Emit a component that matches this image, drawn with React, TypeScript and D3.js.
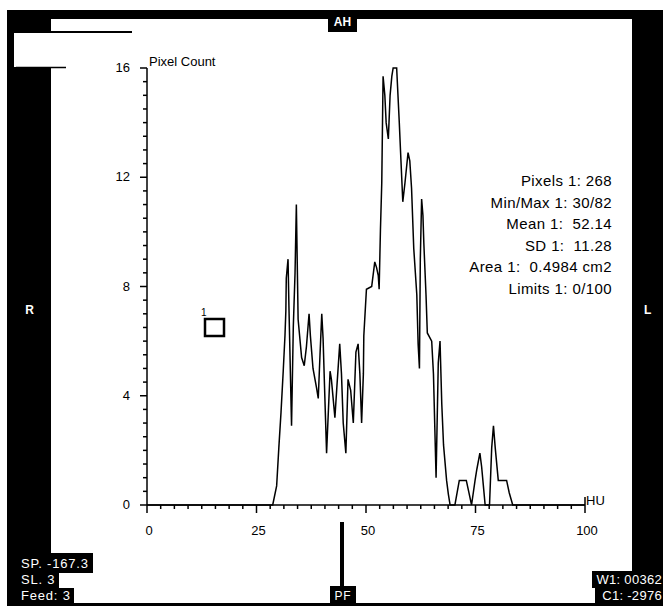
import React, { useEffect, useRef } from "react";
import * as d3 from "d3";

// histogram trace (HU, pixel count)
const huValues = [
  0, 28.7, 29.6, 30.1, 30.6, 31.1, 31.5, 31.7, 31.8, 32.2, 32.4, 33.0, 33.4, 33.8, 34.1, 34.5,
  35.3, 35.9, 36.4, 37.0, 37.3, 37.9, 38.7, 39.1, 39.5, 39.9, 40.2, 40.5, 41.0, 41.8, 42.1,
  42.9, 43.3, 44.0, 44.4, 44.8, 45.4, 45.9, 46.5, 47.1, 47.7, 48.2, 48.6, 49.0, 49.4, 49.5,
  50.1, 51.3, 52.0, 52.4, 52.8, 53.0, 53.3, 53.6, 53.9, 54.3, 54.6, 55.1, 55.5, 55.9, 56.2,
  57.0, 57.6, 57.9, 58.4, 58.9, 59.6, 60.0, 60.4, 60.9, 61.6, 61.9, 62.2, 62.4, 62.7, 63.0,
  63.2, 63.7, 64.0, 65.0, 65.4, 66.0, 66.5, 66.9, 67.3, 67.7, 68.4, 68.8, 69.2, 70.3, 71.3,
  72.9, 73.5, 74.1, 74.9, 75.3, 76.0, 76.4, 76.8, 77.2, 78.2, 78.7, 79.1, 79.5, 80.2, 82.1,
  82.7, 83.5, 100,
];
const pixelCounts = [
  0, 0, 0.7, 2.1, 3.4, 4.9, 6.2, 7.1, 8.3, 9.0, 7.3, 2.9, 6.5, 8.5, 11.0, 6.8,
  5.4, 5.1, 5.8, 7.0, 6.2, 5.0, 4.3, 3.9, 5.5, 7.0, 6.1, 4.5, 1.9, 4.9, 4.6,
  3.2, 4.2, 5.9, 4.8, 3.0, 1.9, 4.6, 4.2, 3.0, 5.6, 5.9, 4.8, 3.0, 4.8, 6.2,
  7.9, 8.0, 8.9, 8.7, 8.4, 7.9, 10.1, 11.8, 15.7, 15.0, 14.0, 13.4, 15.0, 15.7, 16.0,
  16.0, 14.0, 12.9, 11.1, 11.8, 12.9, 12.6, 11.6, 9.4, 7.7, 5.9, 5.0, 9.0, 11.2, 10.6,
  9.6, 7.7, 6.3, 6.0, 4.8, 1.0, 5.2, 6.0, 3.7, 2.2, 0.9, 0.4, 0, 0, 0.9,
  0.9, 0.45, 0, 0.9, 1.3, 1.9, 1.4, 0.7, 0, 0, 2.1, 2.9, 2.1, 0.9, 0.9,
  0.45, 0, 0,
];

const xTicks = [0, 25, 50, 75, 100];
const yTicks = [0, 4, 8, 12, 16];
const statLines = [
  "Pixels 1: 268",
  "Min/Max 1: 30/82",
  "Mean 1:  52.14",
  "SD 1:  11.28",
  "Area 1:  0.4984 cm2",
  "Limits 1: 0/100",
];

const W = 663;
const H = 606;

const App = () => {
  const svgRef = useRef<SVGSVGElement>(null);

  useEffect(() => {
    const svg = d3.select(svgRef.current);
    svg.selectAll("*").remove();
    const font = "Liberation Sans, Arial, sans-serif";

    // frame: white page, black border, white panel
    svg.append("rect").attr("width", W).attr("height", H).attr("fill", "#fff");
    svg.append("rect").attr("x", 7).attr("y", 10).attr("width", W - 7).attr("height", H - 10).attr("fill", "#000");
    svg.append("rect").attr("x", 51).attr("y", 19).attr("width", 581).attr("height", 584).attr("fill", "#fff");

    // odd white notch on the upper left
    svg.append("rect").attr("x", 14).attr("y", 33).attr("width", 37).attr("height", 34).attr("fill", "#fff");
    svg.append("line").attr("x1", 14).attr("x2", 132).attr("y1", 32).attr("y2", 32).attr("stroke", "#000").attr("stroke-width", 2);
    svg.append("line").attr("x1", 16).attr("x2", 66).attr("y1", 67.5).attr("y2", 67.5).attr("stroke", "#000").attr("stroke-width", 1.5);

    // orientation labels
    const lbl = (x: number, y: number, t: string, anchor = "start", size = 13) =>
      svg.append("text").attr("x", x).attr("y", y).attr("fill", "#fff").attr("font-family", font)
        .attr("font-size", size).attr("text-anchor", anchor).attr("letter-spacing", 0.8)
        .attr("xml:space", "preserve").text(t);

    svg.append("rect").attr("x", 328).attr("y", 10).attr("width", 29).attr("height", 22).attr("fill", "#000");
    lbl(342.5, 26, "AH", "middle", 12).attr("font-weight", "bold").attr("letter-spacing", 0);
    lbl(30, 314, "R", "middle", 12).attr("font-weight", "bold");
    lbl(648, 314, "L", "middle", 12).attr("font-weight", "bold");

    svg.append("rect").attr("x", 340).attr("y", 522).attr("width", 4).attr("height", 66).attr("fill", "#000");
    svg.append("rect").attr("x", 330).attr("y", 586).attr("width", 26).attr("height", 18).attr("fill", "#000");
    lbl(343, 600, "PF", "middle", 12);

    // corner info boxes
    svg.append("rect").attr("x", 7).attr("y", 553).attr("width", 86).attr("height", 20).attr("fill", "#000");
    svg.append("rect").attr("x", 7).attr("y", 573).attr("width", 52).attr("height", 15).attr("fill", "#000");
    svg.append("rect").attr("x", 7).attr("y", 588).attr("width", 67).attr("height", 16).attr("fill", "#000");
    lbl(21, 568, "SP. -167.3");
    lbl(21, 584, "SL. 3");
    lbl(21, 600, "Feed: 3");

    svg.append("rect").attr("x", 592).attr("y", 571).attr("width", 71).attr("height", 17).attr("fill", "#000");
    svg.append("rect").attr("x", 595).attr("y", 588).attr("width", 68).attr("height", 16).attr("fill", "#000");
    lbl(662, 584, "W1: 00362", "end").attr("letter-spacing", 0.3);
    lbl(662, 600, "C1: -2976", "end").attr("letter-spacing", 0.3);

    // scales
    const x = d3.scaleLinear().domain([0, 100]).range([147, 585]);
    const y = d3.scaleLinear().domain([0, 16]).range([505, 68]);

    const axis = svg.append("g").attr("stroke", "#000").attr("stroke-width", 1.5);
    axis.append("line").attr("x1", x(0)).attr("x2", x(100)).attr("y1", y(0)).attr("y2", y(0));
    axis.append("line").attr("x1", x(0)).attr("x2", x(0)).attr("y1", y(0)).attr("y2", y(16));

    d3.range(0, 100.01, 3.125).forEach((v) => {
      const major = xTicks.includes(v);
      axis.append("line").attr("x1", x(v)).attr("x2", x(v)).attr("y1", y(0)).attr("y2", y(0) + (major ? 8 : 4));
    });
    d3.range(0, 16.01, 0.5).forEach((v) => {
      const major = yTicks.includes(v);
      axis.append("line").attr("x1", x(0)).attr("x2", x(0) - (major ? 7 : 4)).attr("y1", y(v)).attr("y2", y(v));
    });
    axis.append("line").attr("x1", x(100)).attr("x2", x(100)).attr("y1", y(0)).attr("y2", y(0) - 8);

    const dark = (xx: number, yy: number, t: string, anchor: string, size = 13) =>
      svg.append("text").attr("x", xx).attr("y", yy).attr("fill", "#000").attr("font-family", font)
        .attr("font-size", size).attr("text-anchor", anchor).attr("xml:space", "preserve").text(t);

    xTicks.forEach((v) => dark(x(v) + 2, 535, String(v), "middle"));
    yTicks.forEach((v) => dark(130, y(v) + 4, String(v), "end"));
    dark(x(0) + 2, 66, "Pixel Count", "start");
    dark(x(100) + 1, 505, "HU", "start");

    // ROI marker
    svg.append("rect").attr("x", 205).attr("y", 319).attr("width", 19).attr("height", 17)
      .attr("fill", "none").attr("stroke", "#000").attr("stroke-width", 2.5);
    dark(201, 316, "1", "start", 10);

    // stats block
    statLines.forEach((t, i) => {
      svg.append("text").attr("x", 612).attr("y", 186 + i * 21.6).attr("fill", "#000")
        .attr("font-family", font).attr("font-size", 15).attr("letter-spacing", 0.4)
        .attr("text-anchor", "end").attr("xml:space", "preserve").text(t);
    });

    // histogram trace
    const pts = huValues.map((h, i) => [h, pixelCounts[i]] as [number, number]);
    const line = d3.line<[number, number]>().x((d) => x(d[0])).y((d) => y(d[1]));
    svg.append("path").datum(pts).attr("d", line).attr("fill", "none")
      .attr("stroke", "#000").attr("stroke-width", 1.5).attr("stroke-linejoin", "miter");
  }, []);

  return (
    <svg ref={svgRef} width={W} height={H} style={{ position: "absolute", left: 0, top: 0 }} />
  );
};

export default App;
